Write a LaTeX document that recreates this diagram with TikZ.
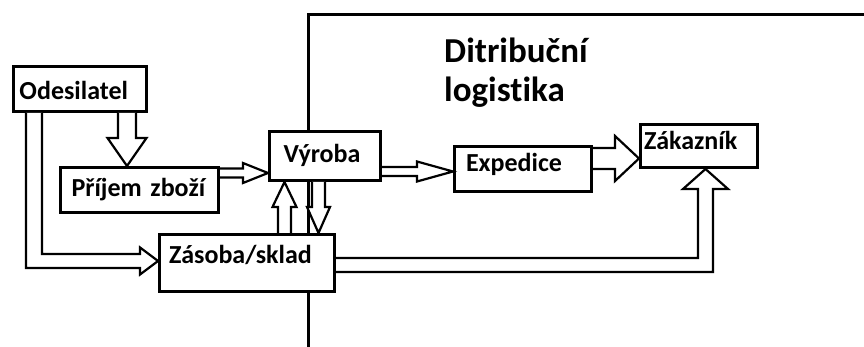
\documentclass[tikz,border=0pt]{standalone}
\usepackage{fontspec}
\setmainfont{Carlito}[Ligatures=NoCommon]
\usetikzlibrary{calc}
\tikzset{
  box/.style={draw, line width=3pt, fill=white, anchor=north west, inner ysep=0pt,
    align=left, font=\fontsize{26}{30}\selectfont\bfseries},
  blk/.style={draw, line width=2.2pt, fill=white, line join=miter, miter limit=10},
  framestyle/.style={line width=3pt},
}
% block arrow: start, tip, shaft half-width, head half-width, head length
\newcommand\barrow[5]{%
  \coordinate (hb) at ($(#2)!#5pt!(#1)$);
  \draw[blk] ($(#1)!#3pt!90:(#2)$) -- ($(hb)!#3pt!90:(#2)$) -- ($(hb)!#4pt!90:(#2)$)
    -- (#2) -- ($(hb)!#4pt!-90:(#2)$) -- ($(hb)!#3pt!-90:(#2)$) -- ($(#1)!#3pt!-90:(#2)$);}
\begin{document}
\begin{tikzpicture}[x=1pt, y=-1pt]
\useasboundingbox (0,0) rectangle (864,347);
% distribution frame
\coordinate (fl) at (308,350);
\coordinate (fr) at (868,15);
\draw[framestyle] (fl) |- (fr);
\node[anchor=base west, align=left, inner sep=0pt,
  font=\fontsize{35}{39}\selectfont\bfseries] (title) at (444,102) {Ditribuční\\logistika};
% boxes
\node[box, inner xsep=6pt, text width=121pt, text height=33.5pt, text depth=11.5pt]
  (odes) at (12,65) {Odesilatel};
\node[box, inner xsep=11pt, text width=136pt, text height=29.5pt, text depth=15.5pt]
  (prijem) at (59,166) {\mbox{Příjem zboží}};
\node[box, inner xsep=14pt, text width=83pt, text height=31.5pt, text depth=17.5pt]
  (vyroba) at (268,130) {Výroba};
\node[box, inner xsep=11.5pt, text width=114pt, text height=25.5pt, text depth=19.5pt]
  (exped) at (453,145) {Expedice};
\node[box, inner xsep=3.5pt, text width=110pt, text height=25.5pt, text depth=17.5pt]
  (zakaz) at (639,123) {Zákazník};
\node[box, inner xsep=9.5pt, text width=156pt, text height=28.5pt, text depth=28.5pt]
  (zasoba) at (158,233) {Zásoba/sklad};
% straight block arrows
\coordinate (as) at ($(odes.south west)+(115,0)$);
\coordinate (at) at ($(prijem.north west)+(68,0)$);
\barrow{as}{at}{9}{19.5}{28}
\coordinate (bs) at ($(prijem.north east)+(0,7)$);
\coordinate (bt) at ($(vyroba.north west)+(0,43)$);
\barrow{bs}{bt}{4.5}{10}{25}
\coordinate (cs) at ($(zasoba.north west)+(126.5,0)$);
\coordinate (ct) at ($(vyroba.south west)+(16.5,0)$);
\barrow{cs}{ct}{6.5}{12}{25}
\coordinate (ds) at ($(vyroba.south west)+(50.5,0)$);
\coordinate (dt) at ($(zasoba.north west)+(160.5,0)$);
\barrow{ds}{dt}{6.5}{11.5}{26}
\coordinate (es) at ($(vyroba.north east)+(0,41.5)$);
\coordinate (et) at ($(exped.north west)+(0,26.5)$);
\barrow{es}{et}{4.5}{10}{36}
\coordinate (fs) at ($(exped.north east)+(0,13.5)$);
\coordinate (ft) at ($(zakaz.north west)+(0,35.5)$);
\barrow{fs}{ft}{10.5}{22.5}{24}
% Odesilatel -> Zasoba (elbow)
\coordinate (o1) at ($(odes.south west)+(14,0)$);
\coordinate (o2) at ($(odes.south west)+(30,0)$);
\coordinate (gt) at ($(zasoba.north west)+(0,28)$);
\draw[blk] (o1) -- ($(o1 |- gt)+(0,7)$) -- ($(gt)+(-18,7)$) -- ($(gt)+(-18,13.5)$) -- (gt)
  -- ($(gt)+(-18,-13.5)$) -- ($(gt)+(-18,-7)$) -- ($(o2 |- gt)+(0,-7)$) -- (o2);
% Zasoba -> Zakaznik (elbow)
\coordinate (z1) at ($(zasoba.north east)+(0,25)$);
\coordinate (z2) at ($(zasoba.north east)+(0,39)$);
\coordinate (ht) at ($(zakaz.south west)+(66.5,0)$);
\draw[blk] (z1) -- ($(z1 -| ht)+(-7.5,0)$) -- ($(ht)+(-7.5,20)$) -- ($(ht)+(-22.5,20)$) -- (ht)
  -- ($(ht)+(22.5,20)$) -- ($(ht)+(7.5,20)$) -- ($(z2 -| ht)+(7.5,0)$) -- (z2);
\end{tikzpicture}
\end{document}
